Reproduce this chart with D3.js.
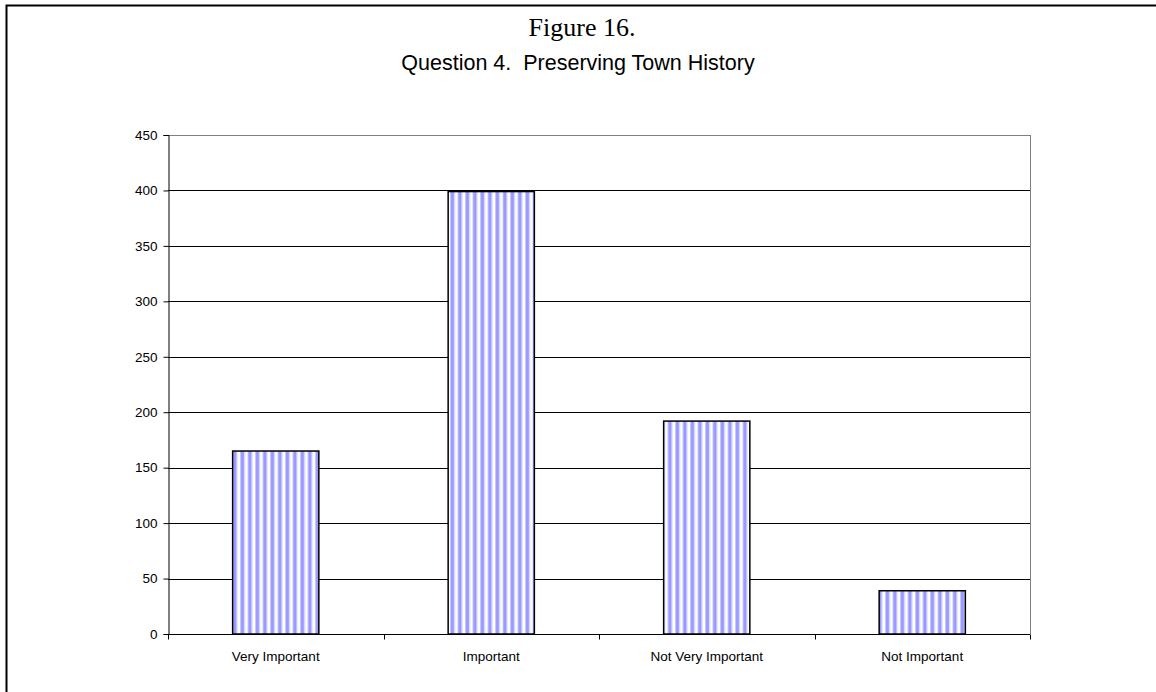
<!DOCTYPE html>
<html>
<head>
<meta charset="utf-8">
<script src="https://cdn.jsdelivr.net/npm/d3@7"></script>
<style>
  body { margin: 0; background: #fff; }
  svg { display: block; }
  .tick text { font-family: "Liberation Sans", Arial, sans-serif; font-size: 13.5px; fill: #000; }
</style>
</head>
<body>
<div id="chart"></div>
<script>
var categories = ['Very Important', 'Important', 'Not Very Important', 'Not Important'];
var counts = [165, 399, 192, 39];
var yTicks = [0, 50, 100, 150, 200, 250, 300, 350, 400, 450];

var width = 1156, height = 692;
var plot = { left: 168, top: 135, right: 1030, bottom: 634 };

var svg = d3.select('#chart')
    .append('svg')
    .attr('width', width)
    .attr('height', height);

// vertical stripes like the old excel fill
var defs = svg.append('defs');
var pat = defs.append('pattern')
    .attr('id', 'stripes')
    .attr('patternUnits', 'userSpaceOnUse')
    .attr('width', 7.5)
    .attr('height', 10);
pat.append('rect').attr('width', 7.5).attr('height', 10).attr('fill', '#ffffff');
pat.append('rect').attr('x', 0).attr('width', 1).attr('height', 10).attr('fill', '#c8c8ff');
pat.append('rect').attr('x', 1).attr('width', 3).attr('height', 10).attr('fill', '#9999ff');
pat.append('rect').attr('x', 4).attr('width', 1).attr('height', 10).attr('fill', '#c8c8ff');

// outer frame
svg.append('rect')
    .attr('x', 6.5)
    .attr('y', 5.5)
    .attr('width', width + 20)
    .attr('height', height + 20)
    .attr('fill', 'none')
    .attr('stroke', '#000')
    .attr('stroke-width', 2);

svg.append('text')
    .attr('x', 582)
    .attr('y', 36)
    .attr('text-anchor', 'middle')
    .style('font-family', '"Liberation Serif", "Times New Roman", serif')
    .style('font-size', '26px')
    .text('Figure 16.');

svg.append('text')
    .attr('x', 578)
    .attr('y', 70)
    .attr('text-anchor', 'middle')
    .style('font-family', '"Liberation Sans", Arial, sans-serif')
    .style('font-size', '21.5px')
    .style('white-space', 'pre')
    .text('Question 4.  Preserving Town History');

var x = d3.scaleBand()
    .domain(categories)
    .range([plot.left, plot.right])
    .paddingInner(0.6)
    .paddingOuter(0.3);

var xOuter = d3.scaleBand()
    .domain(categories)
    .range([plot.left, plot.right]);

var y = d3.scaleLinear()
    .domain([0, 450])
    .range([plot.bottom, plot.top]);

// gridlines
svg.append('g')
    .selectAll('line')
    .data(yTicks.slice(1))
    .enter()
    .append('line')
    .attr('x1', plot.left)
    .attr('x2', plot.right)
    .attr('y1', function(d) { return Math.round(y(d)) + 0.5; })
    .attr('y2', function(d) { return Math.round(y(d)) + 0.5; })
    .attr('stroke', function(d) { return d === 450 ? '#808080' : '#000'; })
    .attr('stroke-width', 1);

// right border of plot area
svg.append('line')
    .attr('x1', plot.right + 0.5)
    .attr('x2', plot.right + 0.5)
    .attr('y1', plot.top)
    .attr('y2', plot.bottom)
    .attr('stroke', '#808080');

svg.append('g')
    .selectAll('rect')
    .data(counts)
    .enter()
    .append('rect')
    .attr('x', function(d, i) { return x(categories[i]); })
    .attr('y', function(d) { return y(d); })
    .attr('width', x.bandwidth())
    .attr('height', function(d) { return plot.bottom - y(d); })
    .attr('fill', 'url(#stripes)')
    .attr('stroke', '#000')
    .attr('stroke-width', 1.5);

// y axis
var yAxis = d3.axisLeft(y)
    .tickValues(yTicks)
    .tickSize(5)
    .tickPadding(6);

var gy = svg.append('g')
    .attr('transform', 'translate(' + (plot.left + 0.5) + ',0)')
    .call(yAxis);
gy.select('.domain').attr('stroke', '#000');
gy.selectAll('.tick line').attr('stroke', '#000');

// x axis: ticks on the category boundaries
var gx = svg.append('g')
    .attr('transform', 'translate(0,' + (plot.bottom + 0.5) + ')');
gx.append('line')
    .attr('x1', plot.left)
    .attr('x2', plot.right)
    .attr('stroke', '#000');
var bounds = categories.map(function(c) { return xOuter(c); }).concat([plot.right]);
gx.selectAll('.xtick')
    .data(bounds)
    .enter()
    .append('line')
    .attr('x1', function(d) { return Math.round(d) + 0.5; })
    .attr('x2', function(d) { return Math.round(d) + 0.5; })
    .attr('y1', 0)
    .attr('y2', 5)
    .attr('stroke', '#000');
gx.selectAll('.xlabel')
    .data(categories)
    .enter()
    .append('text')
    .attr('x', function(d) { return xOuter(d) + xOuter.bandwidth() / 2; })
    .attr('y', 26)
    .attr('text-anchor', 'middle')
    .style('font-family', '"Liberation Sans", Arial, sans-serif')
    .style('font-size', '13.5px')
    .text(function(d) { return d; });
</script>
</body>
</html>
